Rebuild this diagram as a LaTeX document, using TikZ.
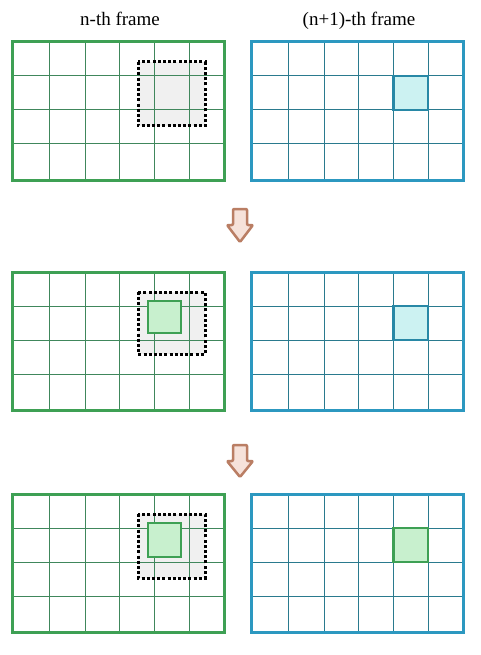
\documentclass[tikz,border=0pt]{standalone}
\usepackage{fontspec}
\setmainfont{Liberation Serif}
\definecolor{gborder}{RGB}{62,160,84}
\definecolor{ggrid}{RGB}{64,135,92}
\definecolor{bborder}{RGB}{44,152,192}
\definecolor{bgrid}{RGB}{42,122,142}
\definecolor{cyanline}{RGB}{40,136,166}
\definecolor{cyanfill}{RGB}{204,242,242}
\definecolor{greenfill}{RGB}{200,240,206}
\definecolor{grayfill}{RGB}{240,240,240}
\definecolor{arrowfill}{RGB}{246,226,218}
\definecolor{arrowline}{RGB}{186,126,100}
\tikzset{
  gridline/.style={line width=1pt},
  framebox/.style={line width=3pt},
  searchbox/.style={draw=black, line width=3pt, dash pattern=on 3pt off 2.2pt},
  blockbox/.style={line width=2.2pt},
  downarrow/.style={draw=arrowline, fill=arrowfill, line width=2.5pt, line join=round, rounded corners=1pt},
  title/.style={font=\fontsize{19}{22}\selectfont, anchor=base, inner sep=0pt}
}
\newcommand{\gridframe}[4]{%
  % #1 x0, #2 y0, #3 border colour, #4 grid colour
  \foreach \i in {37,73.5,107.5,142.5,177} {\draw[gridline,#4] ({#1+\i},#2) -- ({#1+\i},{#2+138});}
  \foreach \j in {34,68,102} {\draw[gridline,#4] (#1,{#2+\j}) -- ({#1+212},{#2+\j});}
  \draw[framebox,#3] (#1,#2) rectangle ({#1+212},{#2+138});
}
\begin{document}
\begin{tikzpicture}[x=1pt,y=-1pt]
\useasboundingbox (0,0) rectangle (480,655);
\fill[white] (0,0) rectangle (480,655);
\node[title] (t1) at (120,26) {n-th frame};
\node[title] (t2) at (359,26) {(n+1)-th frame};
% row 1
\fill[grayfill] (138,62) rectangle (205,126);
\gridframe{12}{42}{gborder}{ggrid}
\draw[searchbox] (138,62) rectangle (205,126);
\gridframe{251}{42}{bborder}{bgrid}
\draw[blockbox,draw=cyanline,fill=cyanfill] (393.5,76) rectangle (428,110);
% arrow 1
\draw[downarrow] (233,209) -- (247,209) -- (247,225) -- (253,225) -- (240,242) -- (227,225) -- (233,225) -- cycle;
% row 2
\fill[grayfill] (138,292) rectangle (205,354);
\gridframe{12}{272}{gborder}{ggrid}
\draw[searchbox] (138,292) rectangle (205,354);
\draw[blockbox,draw=gborder,fill=greenfill] (148,301) rectangle (181,333);
\gridframe{251}{272}{bborder}{bgrid}
\draw[blockbox,draw=cyanline,fill=cyanfill] (393.5,306) rectangle (428,340);
% arrow 2
\draw[downarrow] (233,445) -- (247,445) -- (247,461) -- (253,461) -- (240,477) -- (227,461) -- (233,461) -- cycle;
% row 3
\fill[grayfill] (138,514) rectangle (205,578);
\gridframe{12}{494}{gborder}{ggrid}
\draw[searchbox] (138,514) rectangle (205,578);
\draw[blockbox,draw=gborder,fill=greenfill] (148,523) rectangle (181,557);
\gridframe{251}{494}{bborder}{bgrid}
\draw[blockbox,draw=gborder,fill=greenfill] (393.5,528) rectangle (428,562);
\end{tikzpicture}
\end{document}
